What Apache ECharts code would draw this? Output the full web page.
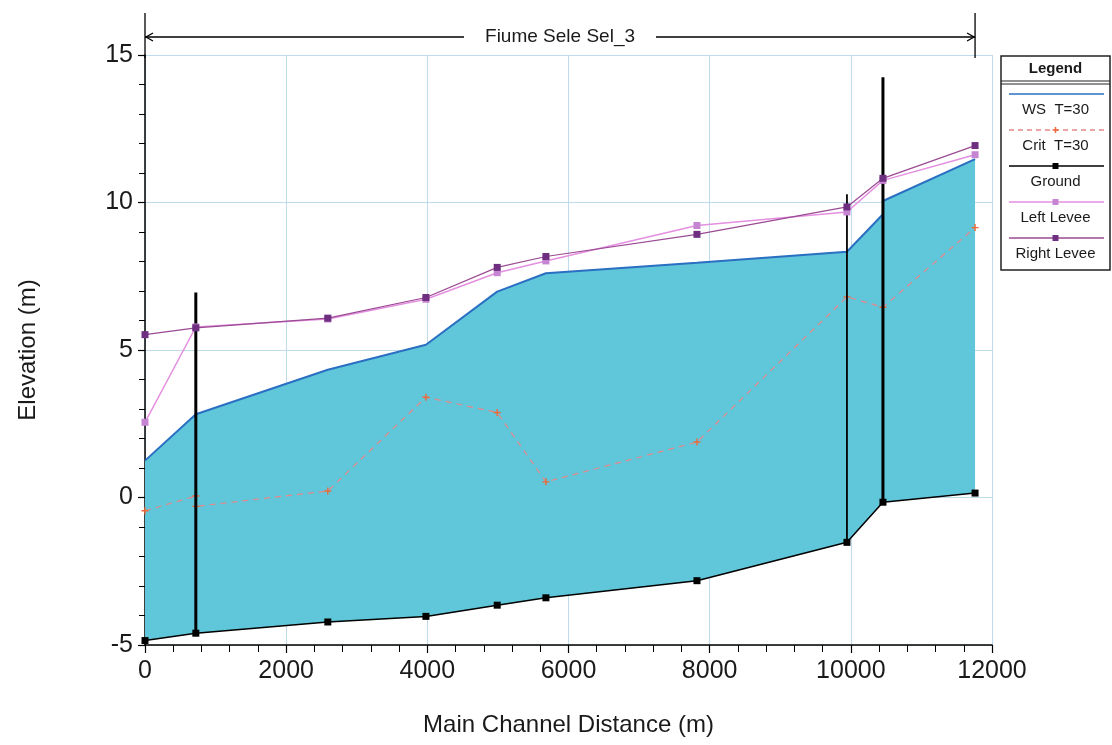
<!DOCTYPE html>
<html>
<head>
<meta charset="utf-8">
<script src="https://cdn.jsdelivr.net/npm/echarts@6/dist/echarts.min.js"></script>
<style>
html,body{margin:0;padding:0;background:#fff;}
#chart{width:1112px;height:745px;}
</style>
</head>
<body>
<div id="chart"></div>
<script>
// ---- data ----
const stations   = [0, 720, 2590, 3980, 4990, 5680, 7820, 9945, 10455, 11760];
const groundElev = [-4.85, -4.6, -4.22, -4.03, -3.65, -3.4, -2.82, -1.52, -0.16, 0.15];
const leftLevee  = [2.55, 5.78, 6.05, 6.72, 7.62, 8.02, 9.22, 9.68, 10.75, 11.62];
const rightLevee = [5.52, 5.75, 6.08, 6.78, 7.8, 8.17, 8.92, 9.85, 10.82, 11.93];
const wsX        = [0, 720, 2590, 3980, 4990, 5680, 7820, 9945, 10455, 10455, 11760];
const wsElev     = [1.25, 2.82, 4.33, 5.18, 6.98, 7.6, 7.96, 8.33, 9.6, 10.05, 11.47];
const critX      = [0, 720, 720, 2590, 3980, 4990, 5680, 7820, 9945, 10455, 11760];
const critElev   = [-0.45, 0.05, -0.3, 0.22, 3.4, 2.88, 0.53, 1.88, 6.8, 6.45, 9.15];
const structX    = [720, 9945, 10455];
const structTop  = [6.95, 10.28, 14.25];
const structBot  = [-4.6, -1.52, -0.16];
const structW    = [3, 1.8, 3];
const reachName  = 'Fiume Sele Sel_3';
const legendNames = ['WS  T=30', 'Crit  T=30', 'Ground', 'Left Levee', 'Right Levee'];
const xTicks = [0, 2000, 4000, 6000, 8000, 10000, 12000];
const yTicks = [-5, 0, 5, 10, 15];

const zip = (xs, ys) => xs.map((x, i) => [x, ys[i]]);
const FONT = '"Liberation Sans", Arial, sans-serif';
const C = {
  fill: '#60c6d9', ws: '#2a6fc2', crit: '#e6888a', critMk: '#ee6a3a',
  ground: '#000', left: '#e48fe0', leftMk: '#c585d2', right: '#9a4a92', rightMk: '#6e2f80',
  grid: '#bfdcef'
};
const plusPath = 'path://M4,0h2v4h4v2h-4v4h-2v-4h-4v-2h4z';

const chart = echarts.init(document.getElementById('chart'), null, {renderer: 'canvas'});

const fillPoly = zip(wsX, wsElev).concat(zip(stations, groundElev).reverse());

const option = {
  animation: false,
  backgroundColor: '#fff',
  grid: {left: 145, right: 120, top: 55, bottom: 100, containLabel: false},
  xAxis: {
    type: 'value', min: xTicks[0], max: xTicks[xTicks.length - 1], interval: xTicks[1] - xTicks[0],
    name: 'Main Channel Distance (m)', nameLocation: 'middle', nameGap: 68,
    nameTextStyle: {fontFamily: FONT, fontSize: 24, color: '#1a1a1a'},
    axisLine: {show: true, onZero: false, lineStyle: {color: '#000', width: 1.5}},
    axisTick: {show: true, length: 8, lineStyle: {color: '#000', width: 1.2}},
    minorTick: {show: true, splitNumber: 5, length: 7, lineStyle: {color: '#000', width: 1}},
    axisLabel: {fontFamily: FONT, fontSize: 25, color: '#1a1a1a', margin: 14, formatter: v => String(v)},
    splitLine: {show: true, lineStyle: {color: C.grid, width: 1}}
  },
  yAxis: {
    type: 'value', min: yTicks[0], max: yTicks[yTicks.length - 1], interval: yTicks[1] - yTicks[0],
    name: 'Elevation (m)', nameLocation: 'middle', nameGap: 105,
    nameTextStyle: {fontFamily: FONT, fontSize: 24, color: '#1a1a1a'},
    axisLine: {show: true, onZero: false, lineStyle: {color: '#000', width: 1.5}},
    axisTick: {show: true, length: 7, lineStyle: {color: '#000', width: 1.2}},
    minorTick: {show: true, splitNumber: 5, length: 6, lineStyle: {color: '#000', width: 1}},
    axisLabel: {fontFamily: FONT, fontSize: 25, color: '#1a1a1a', margin: 12, formatter: v => String(v)},
    splitLine: {show: true, lineStyle: {color: C.grid, width: 1}}
  },
  series: [
    { // flow area between water surface and ground
      type: 'custom', name: 'area', z: 1, silent: true,
      data: [0],
      renderItem: function (params, api) {
        return {
          type: 'polygon',
          shape: {points: fillPoly.map(p => api.coord(p))},
          style: {fill: C.fill, stroke: null}
        };
      }
    },
    {
      type: 'line', name: legendNames[1], z: 3, data: zip(critX, critElev),
      symbol: plusPath, symbolSize: 7, showSymbol: true,
      lineStyle: {color: C.crit, width: 1.2, type: [6, 5]},
      itemStyle: {color: C.critMk}
    },
    {
      type: 'line', name: legendNames[0], z: 4, data: zip(wsX, wsElev),
      symbol: 'none', lineStyle: {color: C.ws, width: 2}
    },
    {
      type: 'line', name: legendNames[2], z: 5, data: zip(stations, groundElev),
      symbol: 'rect', symbolSize: 7, lineStyle: {color: C.ground, width: 1.5},
      itemStyle: {color: C.ground}
    },
    {
      type: 'custom', name: 'structures', z: 6, silent: true,
      data: structX.map((x, i) => [x, structBot[i], structTop[i], structW[i]]),
      renderItem: function (params, api) {
        const b = api.coord([api.value(0), api.value(1)]);
        const t = api.coord([api.value(0), api.value(2)]);
        return {type: 'line', shape: {x1: b[0], y1: b[1], x2: t[0], y2: t[1]},
                style: {stroke: '#000', lineWidth: api.value(3)}};
      }
    },
    {
      type: 'line', name: legendNames[3], z: 7, data: zip(stations, leftLevee),
      symbol: 'rect', symbolSize: 7, lineStyle: {color: C.left, width: 1.5},
      itemStyle: {color: C.leftMk}
    },
    {
      type: 'line', name: legendNames[4], z: 8, data: zip(stations, rightLevee),
      symbol: 'rect', symbolSize: 7, lineStyle: {color: C.right, width: 1.2},
      itemStyle: {color: C.rightMk}
    },
    { // reach extent arrow with name
      type: 'custom', name: 'reach', z: 9, silent: true, clip: false,
      data: [[stations[0], stations[stations.length - 1]]],
      renderItem: function (params, api) {
        const a = api.coord([api.value(0), 15]);
        const b = api.coord([api.value(1), 15]);
        const y = a[1] - 18;
        const mid = (a[0] + b[0]) / 2;
        const half = 96;
        const st = {stroke: '#000', lineWidth: 1.3};
        return {type: 'group', children: [
          {type: 'line', shape: {x1: a[0], y1: a[1] - 42, x2: a[0], y2: a[1] + 3}, style: st},
          {type: 'line', shape: {x1: b[0], y1: b[1] - 42, x2: b[0], y2: b[1] + 3}, style: st},
          {type: 'line', shape: {x1: a[0], y1: y, x2: mid - half, y2: y}, style: st},
          {type: 'line', shape: {x1: mid + half, y1: y, x2: b[0], y2: y}, style: st},
          {type: 'polyline', shape: {points: [[a[0] + 8, y - 4], [a[0] + 1, y], [a[0] + 8, y + 4]]}, style: {stroke: '#000', lineWidth: 1.3, fill: null}},
          {type: 'polyline', shape: {points: [[b[0] - 8, y - 4], [b[0] - 1, y], [b[0] - 8, y + 4]]}, style: {stroke: '#000', lineWidth: 1.3, fill: null}},
          {type: 'text', x: mid, y: y, style: {text: reachName, fontFamily: FONT, fontSize: 19,
             fill: '#1a1a1a', align: 'center', verticalAlign: 'middle'}}
        ]};
      }
    }
  ]
};

// legend box (items drawn line-above-text as in the reference)
const LX = 1001, LY = 56, LW = 109, LH = 214;
const legendSamples = [
  {line: C.ws, dash: null, mk: null},
  {line: C.crit, dash: [5, 4], mk: 'plus', mkc: C.critMk},
  {line: '#000', dash: null, mk: 'rect', mkc: '#000'},
  {line: C.left, dash: null, mk: 'rect', mkc: C.leftMk},
  {line: C.right, dash: null, mk: 'rect', mkc: C.rightMk}
];
const g = [
  {type: 'rect', shape: {x: LX, y: LY, width: LW, height: LH}, style: {fill: '#fff', stroke: '#222', lineWidth: 1.5}},
  {type: 'line', shape: {x1: LX, y1: LY + 25, x2: LX + LW, y2: LY + 25}, style: {stroke: '#222', lineWidth: 1.2}},
  {type: 'line', shape: {x1: LX, y1: LY + 28, x2: LX + LW, y2: LY + 28}, style: {stroke: '#222', lineWidth: 1}},
  {type: 'text', x: LX + LW / 2, y: LY + 13, style: {text: 'Legend', fontFamily: FONT, fontSize: 15, fontWeight: 'bold', fill: '#1a1a1a', align: 'center', verticalAlign: 'middle'}}
];
legendSamples.forEach((s, i) => {
  const ly = LY + 38 + i * 36;
  g.push({type: 'line', shape: {x1: LX + 8, y1: ly, x2: LX + LW - 6, y2: ly},
          style: {stroke: s.line, lineWidth: 1.5, lineDash: s.dash}});
  if (s.mk === 'rect') {
    g.push({type: 'rect', shape: {x: LX + LW / 2 - 3, y: ly - 3, width: 6, height: 6}, style: {fill: s.mkc}});
  } else if (s.mk === 'plus') {
    g.push({type: 'line', shape: {x1: LX + LW / 2 - 3, y1: ly, x2: LX + LW / 2 + 3, y2: ly}, style: {stroke: s.mkc, lineWidth: 1.5}});
    g.push({type: 'line', shape: {x1: LX + LW / 2, y1: ly - 3, x2: LX + LW / 2, y2: ly + 3}, style: {stroke: s.mkc, lineWidth: 1.5}});
  }
  g.push({type: 'text', x: LX + LW / 2, y: ly + 16, style: {text: legendNames[i], fontFamily: FONT, fontSize: 15,
          fill: '#1a1a1a', align: 'center', verticalAlign: 'middle'}});
});
option.graphic = g;

chart.setOption(option);
</script>
</body>
</html>
